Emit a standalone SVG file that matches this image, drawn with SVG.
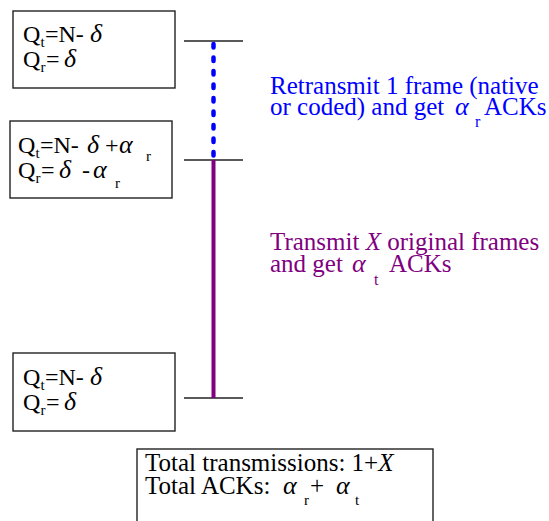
<svg xmlns="http://www.w3.org/2000/svg" width="549" height="521" viewBox="0 0 549 521">
<style>
.box{fill:#fff;stroke:#222;stroke-width:1.4}
.tick{stroke:#222;stroke-width:1.5}
.bt{font-size:24px}
.sub{font-size:15px}
.gr{font-style:italic;font-size:26px}
.lbl{font-size:25px}
.blue{fill:#0000FF}
.purple{fill:#800080}
</style>
<rect width="549" height="521" fill="#fff"/>
<g id="connectors">
<line class="tick" x1="184" y1="41" x2="243" y2="41"/>
<line class="tick" x1="184" y1="160" x2="243" y2="160"/>
<line class="tick" x1="184" y1="398" x2="243" y2="398"/>
<line x1="213.5" y1="44" x2="213.5" y2="158" stroke="#0000FF" stroke-width="4.5" stroke-dasharray="3.5 10" stroke-linecap="round"/>
<line x1="213.5" y1="160" x2="213.5" y2="398" stroke="#800080" stroke-width="4"/>
</g>
<g font-family="Liberation Serif, Times New Roman, serif" fill="#000">
<g id="state1">
<rect class="box" x="13" y="11" width="162" height="77"/>
<text class="bt"><tspan x="23" y="42">Q</tspan><tspan class="sub" x="40.5" y="47">t</tspan><tspan x="45" y="42">=N-</tspan><tspan class="gr" x="90" y="42">δ</tspan></text>
<text class="bt"><tspan x="23" y="66.5">Q</tspan><tspan class="sub" x="40.5" y="72">r</tspan><tspan x="46" y="66.5">=</tspan><tspan class="gr" x="64" y="66.5">δ</tspan></text>
</g>
<g id="state2">
<rect class="box" x="10" y="121" width="162" height="77"/>
<text class="bt"><tspan x="18" y="153">Q</tspan><tspan class="sub" x="35.5" y="158">t</tspan><tspan x="40" y="153">=N-</tspan><tspan class="gr" x="87" y="153">δ</tspan><tspan x="105" y="153">+</tspan><tspan class="gr" x="119" y="153">α</tspan><tspan class="sub" x="146" y="161">r</tspan></text>
<text class="bt"><tspan x="18" y="177.5">Q</tspan><tspan class="sub" x="35.5" y="183">r</tspan><tspan x="41" y="177.5">=</tspan><tspan class="gr" x="59" y="177.5">δ</tspan><tspan x="82" y="177.5">-</tspan><tspan class="gr" x="93" y="177.5">α</tspan><tspan class="sub" x="115" y="188">r</tspan></text>
</g>
<g id="state3">
<rect class="box" x="13" y="353" width="162" height="78"/>
<text class="bt"><tspan x="23" y="385">Q</tspan><tspan class="sub" x="40.5" y="390">t</tspan><tspan x="45" y="385">=N-</tspan><tspan class="gr" x="90" y="385">δ</tspan></text>
<text class="bt"><tspan x="23" y="409.5">Q</tspan><tspan class="sub" x="40.5" y="415">r</tspan><tspan x="46" y="409.5">=</tspan><tspan class="gr" x="64" y="409.5">δ</tspan></text>
</g>
<g id="retransmit-label">
<text class="lbl blue" x="270" y="94">Retransmit 1 frame (native</text>
<text class="lbl blue"><tspan x="270" y="115">or coded) and get</tspan><tspan class="gr" x="455" y="115">α</tspan><tspan class="sub" style="font-size:16px" x="475" y="126.5">r</tspan><tspan x="484" y="115">ACKs</tspan></text>
</g>
<g id="transmit-label">
<text class="lbl purple" x="270" y="250">Transmit <tspan style="font-style:italic">X</tspan> original frames</text>
<text class="lbl purple"><tspan x="270" y="272">and get</tspan><tspan class="gr" x="352" y="272">α</tspan><tspan class="sub" style="font-size:16px" x="374" y="285">t</tspan><tspan x="389" y="272">ACKs</tspan></text>
</g>
<g id="totals">
<rect class="box" x="137" y="449" width="296" height="90"/>
<text font-size="25"><tspan x="145" y="471">Total transmissions: 1+</tspan><tspan style="font-style:italic">X</tspan></text>
<text font-size="25"><tspan x="145" y="494">Total ACKs:</tspan><tspan class="gr" x="283" y="494">α</tspan><tspan class="sub" x="304" y="505">r</tspan><tspan x="310" y="494">+</tspan><tspan class="gr" x="336" y="494">α</tspan><tspan class="sub" x="355" y="505">t</tspan></text>
</g>
</g>
</svg>
